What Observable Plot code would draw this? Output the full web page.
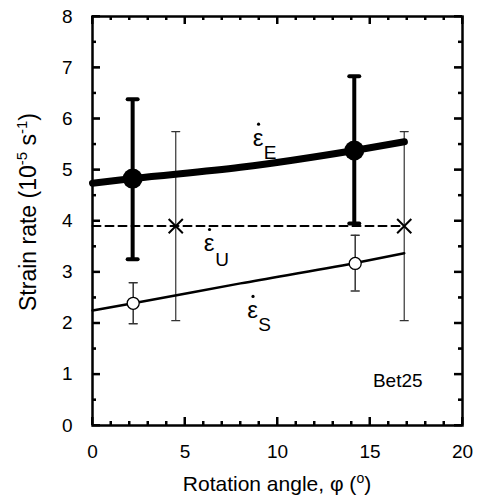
<!DOCTYPE html>
<html>
<head>
<meta charset="utf-8">
<script src="https://cdn.jsdelivr.net/npm/d3@7"></script>
<script src="https://cdn.jsdelivr.net/npm/@observablehq/plot@0.6"></script>
<style>
  html, body { margin: 0; padding: 0; background: #fff; }
</style>
</head>
<body>
<div id="chart"></div>
<script>
// ---- data ----
const xTicks = [0, 5, 10, 15, 20];
const xMinor = d3.range(0, 21, 1);
const yTicks = [0, 1, 2, 3, 4, 5, 6, 7, 8];
const yMinor = d3.range(0, 8.01, 0.5);

// epsilon-dot E (thick line, filled circles)
const eX = [2.17, 14.15];
const eY = [4.83, 5.38];
const eLo = [3.25, 3.95];
const eHi = [6.38, 6.83];
const eLineX = [0, 2.17, 8, 14.15, 16.86];
const eLineY = [4.74, 4.83, 5.05, 5.38, 5.55];

// epsilon U (dashed line, x markers)
const uX = [4.5, 16.85];
const uY = [3.9, 3.9];
const uLo = [2.05, 2.05];
const uHi = [5.75, 5.75];
const uLineX = [0, 16.85];
const uLineY = [3.9, 3.9];

// epsilon-dot S (thin line, open circles)
const sX = [2.2, 14.2];
const sY = [2.39, 3.17];
const sLo = [1.99, 2.63];
const sHi = [2.79, 3.72];
const sLineX = [0, 2.2, 8, 14.2, 16.85];
const sLineY = [2.25, 2.39, 2.78, 3.18, 3.37];

// labels
const seriesLabels = [
  {x: 8.95, y: 5.62, sub: "E", sx: 9.6, sy: 5.34},
  {x: 6.3, y: 3.56, sub: "U", sx: 7.0, sy: 3.23},
  {x: 8.65, y: 2.25, sub: "S", sx: 9.3, sy: 1.97}
];
const panelLabel = [{x: 16.5, y: 0.88, text: "Bet25"}];

// ---- tables ----
const pts = (xs, ys, lo, hi) => xs.map((x, i) => ({x, y: ys[i], lo: lo ? lo[i] : null, hi: hi ? hi[i] : null}));
const ePts = pts(eX, eY, eLo, eHi);
const uPts = pts(uX, uY, uLo, uHi);
const sPts = pts(sX, sY, sLo, sHi);
const eLine = pts(eLineX, eLineY);
const uLine = pts(uLineX, uLineY);
const sLine = pts(sLineX, sLineY);

const W = 477, H = 498, ML = 92, MR = 15, MT = 16, MB = 73;
const innerH = H - MT - MB, innerW = W - ML - MR;

const lineShape = {draw(ctx, l) { ctx.moveTo(0, 0); ctx.lineTo(0, -l); }};

function capMarks(data, len, sw, color) {
  const o = {shape: lineShape, length: len, rotate: 90, anchor: "middle", stroke: color, strokeWidth: sw};
  return [
    Plot.vector(data, {x: "x", y: "lo", ...o}),
    Plot.vector(data, {x: "x", y: "hi", ...o})
  ];
}

const isMajorX = d => d % 5 === 0;
const isMajorY = d => d % 1 === 0;
const tk = {stroke: "black", strokeWidth: 2};
function innerTicks() {
  const out = [];
  for (const [vals, len] of [[xMinor.filter(d => !isMajorX(d)), 4], [xMinor.filter(isMajorX), 8]]) {
    out.push(Plot.tickX(vals, {x: d => d, insetTop: innerH - len, ...tk}));
    out.push(Plot.tickX(vals, {x: d => d, insetBottom: innerH - len, ...tk}));
  }
  for (const [vals, len] of [[yMinor.filter(d => !isMajorY(d)), 4], [yMinor.filter(isMajorY), 8]]) {
    out.push(Plot.tickY(vals, {y: d => d, insetRight: innerW - len, ...tk}));
    out.push(Plot.tickY(vals, {y: d => d, insetLeft: innerW - len, ...tk}));
  }
  return out;
}

const chart = Plot.plot({
  width: W,
  height: H,
  marginLeft: ML,
  marginRight: MR,
  marginTop: MT,
  marginBottom: MB,
  style: {fontFamily: "'Liberation Sans', Arial, sans-serif", fontSize: "19px", color: "black", background: "white"},
  x: {domain: [0, 20], label: null},
  y: {domain: [0, 8], label: null},
  marks: [
    Plot.axisX({ticks: xTicks, tickSize: 0, tickPadding: 19, fontSize: 19, label: null, tickFormat: d => d}),
    Plot.axisY({ticks: yTicks, tickSize: 0, tickPadding: 20, fontSize: 19, label: null, tickFormat: d => d}),

    // U error bars and dashed line
    Plot.ruleX(uPts, {x: "x", y1: "lo", y2: "hi", stroke: "#333", strokeWidth: 1.2}),
    ...capMarks(uPts, 8, 1.2, "#333"),
    Plot.line(uLine, {x: "x", y: "y", stroke: "black", strokeWidth: 2, strokeDasharray: "8,5"}),
    Plot.dot(uPts, {x: "x", y: "y", symbol: "times", r: 6.5, stroke: "black", strokeWidth: 2}),

    // S
    Plot.ruleX(sPts, {x: "x", y1: "lo", y2: "hi", stroke: "#333", strokeWidth: 1.5}),
    ...capMarks(sPts, 8, 1.5, "#333"),
    Plot.line(sLine, {x: "x", y: "y", stroke: "black", strokeWidth: 2.5, curve: "monotone-x"}),
    Plot.dot(sPts, {x: "x", y: "y", r: 6, fill: "white", stroke: "black", strokeWidth: 1.3}),

    // E
    Plot.ruleX(ePts, {x: "x", y1: "lo", y2: "hi", stroke: "black", strokeWidth: 4}),
    ...capMarks(ePts, 10, 4, "black"),
    Plot.line(eLine, {x: "x", y: "y", stroke: "black", strokeWidth: 7, curve: "monotone-x"}),
    Plot.dot(ePts, {x: "x", y: "y", r: 10, fill: "black"}),

    // series labels: epsilon with a dot above, and subscript
    Plot.text(seriesLabels, {x: "x", y: "y", text: () => "\u03B5", fontSize: 24}),
    Plot.dot(seriesLabels, {x: "x", y: "y", r: 1.6, fill: "black", dy: -14, dx: 0.5}),
    Plot.text(seriesLabels, {x: "sx", y: "sy", text: "sub", fontSize: 19}),
    Plot.text(panelLabel, {x: "x", y: "y", text: "text", fontSize: 19}),

    ...innerTicks(),
    Plot.frame({stroke: "black", strokeWidth: 2.5})
  ]
});

document.getElementById("chart").appendChild(chart);

const svg = d3.select(chart);

// inward ticks on all four sides, positioned with the plot's own scales
const sxScale = chart.scale("x"), syScale = chart.scale("y");
const px = v => sxScale.apply(v), py = v => syScale.apply(v);
const gT = svg.append("g").attr("stroke", "black").attr("stroke-width", 2);
const xL = px(0), xR = px(20), yB = py(0), yT = py(8);
xMinor.forEach(v => {
  const L = isMajorX(v) ? 8 : 4;
  gT.append("line").attr("x1", px(v)).attr("x2", px(v)).attr("y1", yB).attr("y2", yB - L);
  gT.append("line").attr("x1", px(v)).attr("x2", px(v)).attr("y1", yT).attr("y2", yT + L);
});
yMinor.forEach(v => {
  const L = isMajorY(v) ? 8 : 4;
  gT.append("line").attr("y1", py(v)).attr("y2", py(v)).attr("x1", xL).attr("x2", xL + L);
  gT.append("line").attr("y1", py(v)).attr("y2", py(v)).attr("x1", xR).attr("x2", xR - L);
});

// axis titles with superscripts
const xt = svg.append("text")
  .attr("x", 277).attr("y", 491)
  .attr("text-anchor", "middle")
  .attr("font-size", 21).attr("fill", "black");
xt.append("tspan").text("Rotation angle, \u03C6 (");
xt.append("tspan").attr("dy", -8).attr("font-size", 14).text("o");
xt.append("tspan").attr("dy", 8).text(")");

const yt = svg.append("text")
  .attr("transform", "translate(28,212) rotate(-90)")
  .attr("text-anchor", "middle")
  .attr("dy", "0.36em")
  .attr("font-size", 23).attr("fill", "black");
yt.append("tspan").text("Strain rate (10");
yt.append("tspan").attr("dy", -9).attr("font-size", 15).text("-5");
yt.append("tspan").attr("dy", 9).text(" s");
yt.append("tspan").attr("dy", -9).attr("font-size", 15).text("-1");
yt.append("tspan").attr("dy", 9).text(")");
</script>
</body>
</html>
